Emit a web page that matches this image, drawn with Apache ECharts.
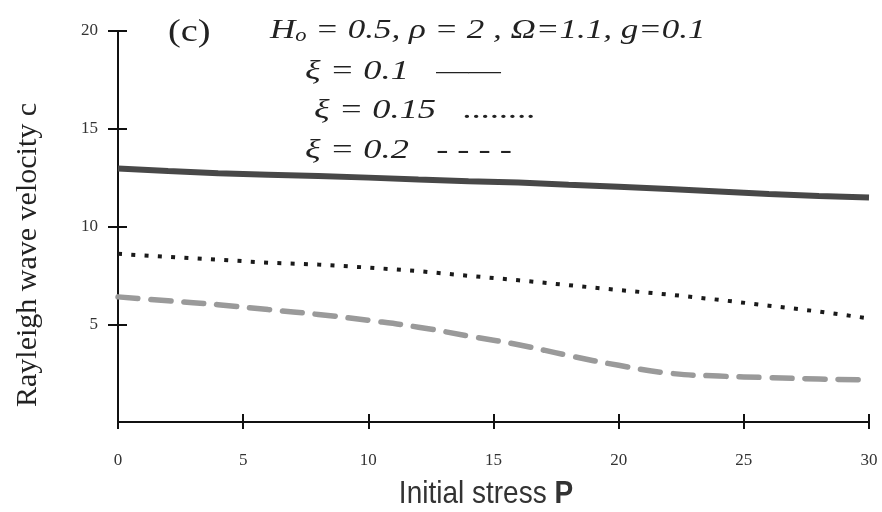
<!DOCTYPE html>
<html>
<head>
<meta charset="utf-8">
<script src="https://cdn.jsdelivr.net/npm/echarts@6/dist/echarts.min.js"></script>
<style>html,body{margin:0;padding:0;background:#fff}#c{width:882px;height:512px}</style>
</head>
<body>
<div id="c"></div>
<script>
// Data
const initialStress = [0, 2, 4, 6, 8, 10, 12, 14, 16, 18, 20, 22, 24, 26, 28, 30];
const xi010 = [12.97, 12.84, 12.72, 12.65, 12.58, 12.5, 12.4, 12.32, 12.25, 12.13, 12.03, 11.92, 11.79, 11.66, 11.56, 11.48];
const xi015 = [8.6, 8.45, 8.3, 8.15, 8.05, 7.9, 7.72, 7.48, 7.25, 7.0, 6.75, 6.52, 6.25, 5.95, 5.65, 5.3];
const xi020 = [6.4, 6.2, 6.0, 5.75, 5.5, 5.2, 4.85, 4.4, 3.95, 3.4, 2.9, 2.5, 2.35, 2.27, 2.2, 2.15];
const xTicks = [0, 5, 10, 15, 20, 25, 30];
const yTicks = [5, 10, 15, 20];

const pair = (ys) => initialStress.map((x, i) => [x, ys[i]]);
const chart = echarts.init(document.getElementById('c'), null, {renderer: 'canvas'});

const axisCommon = {
  type: 'value',
  splitLine: {show: false},
  axisLine: {show: true, lineStyle: {color: '#111', width: 2}},
};
const serif = '"Liberation Serif", "DejaVu Serif", serif';

chart.setOption({
  animation: false,
  backgroundColor: '#fff',
  grid: {left: 118, right: 13, top: 31, bottom: 90, containLabel: false},
  xAxis: [
    Object.assign({}, axisCommon, {
      min: xTicks[0], max: xTicks[xTicks.length - 1], interval: 5,
      axisTick: {show: true, length: 7, lineStyle: {color: '#111', width: 2}},
      axisLabel: {show: true, margin: 30, color: '#333', fontFamily: serif, fontSize: 17}
    }),
    Object.assign({}, axisCommon, {
      min: xTicks[0], max: xTicks[xTicks.length - 1], interval: 5, position: 'bottom',
      axisLine: {show: false},
      axisTick: {show: true, inside: true, length: 8, lineStyle: {color: '#111', width: 2}},
      axisLabel: {show: false}
    })
  ],
  yAxis: [
    Object.assign({}, axisCommon, {
      min: 0, max: yTicks[yTicks.length - 1], interval: 5,
      axisTick: {show: true, length: 10, lineStyle: {color: '#111', width: 2}},
      axisLabel: {show: true, showMinLabel: false, margin: 20, color: '#333', fontFamily: serif, fontSize: 17}
    }),
    Object.assign({}, axisCommon, {
      min: 0, max: yTicks[yTicks.length - 1], interval: 5, position: 'left',
      axisLine: {show: false},
      axisTick: {show: true, inside: true, length: 9, lineStyle: {color: '#111', width: 2}},
      axisLabel: {show: false}
    })
  ],
  series: [
    {
      name: 'ξ = 0.1', type: 'line', data: pair(xi010), showSymbol: false, smooth: false,
      lineStyle: {color: '#484848', width: 6, type: 'solid', cap: 'butt'}
    },
    {
      name: 'ξ = 0.15', type: 'line', data: pair(xi015), showSymbol: false, smooth: false,
      lineStyle: {color: '#1a1a1a', width: 4, type: [4, 9.3], cap: 'butt'}
    },
    {
      name: 'ξ = 0.2', type: 'line', data: pair(xi020), showSymbol: false, smooth: true,
      lineStyle: {color: '#9a9a9a', width: 5.5, type: [20, 13], cap: 'round'}
    }
  ],
  graphic: [
    {
      type: 'text', x: 28, y: 255, rotation: Math.PI / 2,
      style: {text: 'Rayleigh wave velocity c', font: '30px ' + serif, fill: '#222', align: 'center', verticalAlign: 'middle'}
    },
    {
      type: 'text', x: 486, y: 494, scaleY: 1.12,
      style: {
        text: '{n|Initial stress }{b|P}', align: 'center', verticalAlign: 'middle',
        rich: {
          n: {font: '28px "Liberation Sans", Arial, sans-serif', fill: '#333'},
          b: {font: 'bold 28px "Liberation Sans", Arial, sans-serif', fill: '#333'}
        }
      }
    },
    {
      type: 'text', x: 168, y: 33, scaleX: 1.2,
      style: {text: '(c)', font: '32px ' + serif, fill: '#222', align: 'left', verticalAlign: 'middle'}
    },
    {
      type: 'text', x: 270, y: 29, scaleX: 1.25,
      style: {
        text: '{i|H}{s|o}{i| = 0.5, ρ = 2 , Ω=1.1, g=0.1}', align: 'left', verticalAlign: 'middle',
        rich: {
          i: {font: 'italic 28px ' + serif, fill: '#222', lineHeight: 32, verticalAlign: 'bottom'},
          s: {font: 'italic 18px ' + serif, fill: '#222', lineHeight: 26, verticalAlign: 'bottom'}
        }
      }
    },
    {
      type: 'text', x: 305, y: 72, scaleX: 1.3,
      style: {text: 'ξ = 0.1   ——', font: 'italic 28px ' + serif, fill: '#222', align: 'left', verticalAlign: 'middle'}
    },
    {
      type: 'text', x: 314, y: 111, scaleX: 1.3,
      style: {text: 'ξ = 0.15   ........', font: 'italic 28px ' + serif, fill: '#222', align: 'left', verticalAlign: 'middle'}
    },
    {
      type: 'text', x: 305, y: 151, scaleX: 1.3,
      style: {text: 'ξ = 0.2   - - - -', font: 'italic 28px ' + serif, fill: '#222', align: 'left', verticalAlign: 'middle'}
    }
  ]
});
</script>
</body>
</html>
